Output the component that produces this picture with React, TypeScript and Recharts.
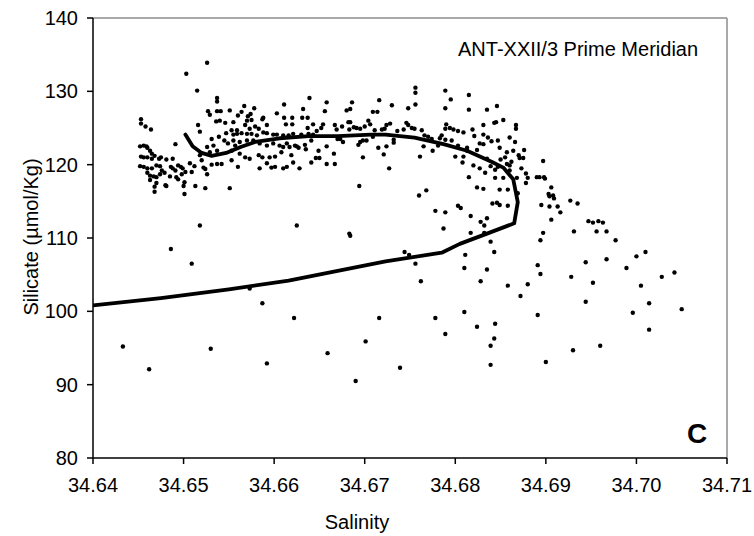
import React from 'react';
import { ScatterChart, Scatter, XAxis, YAxis, ReferenceLine } from 'recharts';

// salinity vs silicate samples
const westCluster: [number, number][] = [
  [34.6453, 126.2], [34.6453, 125.6], [34.6458, 125.2], [34.6464, 124.8], [34.6503, 132.4], [34.6515, 130.1],
  [34.6526, 133.9], [34.6516, 125.4], [34.6518, 124.5], [34.6527, 127.3], [34.6529, 126.8], [34.6537, 129.1],
  [34.6537, 128.6], [34.6537, 127.3], [34.6541, 127.3], [34.6536, 125.9], [34.654, 126.0], [34.6546, 125.7],
  [34.6452, 122.5], [34.6456, 122.6], [34.6459, 122.5], [34.646, 122.3], [34.6463, 121.9], [34.6465, 121.5],
  [34.6453, 121.1], [34.6456, 121.0], [34.646, 121.0], [34.6465, 120.8], [34.6468, 121.2], [34.6473, 120.8],
  [34.6475, 121.0], [34.6452, 119.8], [34.6456, 119.7], [34.646, 119.5], [34.6465, 119.5], [34.647, 119.9],
  [34.6474, 119.8], [34.6476, 119.2], [34.646, 118.9], [34.6463, 118.5], [34.6467, 118.4], [34.647, 118.3],
  [34.6474, 118.7], [34.6463, 117.9], [34.647, 117.5], [34.6468, 117.0], [34.648, 117.2], [34.6481, 117.1],
  [34.6479, 118.9], [34.6485, 118.4], [34.6488, 119.5], [34.6491, 119.2], [34.6494, 119.9], [34.6497, 119.7],
  [34.6499, 119.5], [34.6498, 118.7], [34.6502, 119.0], [34.6492, 118.3], [34.6494, 118.0], [34.6491, 122.8],
  [34.6488, 120.8], [34.6486, 119.7], [34.6481, 120.7], [34.6501, 117.6], [34.65, 117.1], [34.6501, 116.0],
  [34.6507, 120.2], [34.6512, 119.8], [34.6509, 119.0], [34.6518, 121.3], [34.652, 120.6], [34.6522, 119.6],
  [34.6524, 119.4], [34.6526, 118.7], [34.6513, 117.1], [34.6524, 116.8], [34.6531, 120.0], [34.6537, 120.1],
  [34.6542, 120.1], [34.6553, 121.9], [34.6549, 122.9], [34.6545, 123.3], [34.6539, 123.8], [34.6547, 124.3],
  [34.6555, 124.1], [34.6559, 124.7], [34.6531, 123.5], [34.6533, 122.6], [34.6529, 121.7], [34.6526, 122.4],
  [34.6537, 121.9], [34.6553, 120.6], [34.656, 119.7], [34.6468, 116.3], [34.6518, 111.7], [34.6486, 108.5],
  [34.6509, 106.5], [34.6573, 103.1], [34.6433, 95.2], [34.6462, 92.1], [34.653, 94.9],
];

const plateauWest: [number, number][] = [
  [34.6551, 127.4], [34.6555, 125.8], [34.656, 126.7], [34.6564, 127.2], [34.6567, 128.0], [34.657, 126.0],
  [34.6571, 126.6], [34.6574, 126.9], [34.6575, 126.1], [34.6578, 127.7], [34.6568, 125.4], [34.6573, 124.9],
  [34.6579, 125.2], [34.6583, 124.9], [34.6587, 126.2], [34.6588, 126.4], [34.6592, 125.4], [34.6553, 124.7],
  [34.6559, 124.2], [34.6564, 124.3], [34.657, 124.2], [34.6575, 124.2], [34.6581, 124.0], [34.6588, 124.4],
  [34.6592, 124.3], [34.6599, 124.1], [34.6603, 124.1], [34.661, 124.0], [34.6616, 124.0], [34.6621, 124.2],
  [34.663, 124.1], [34.6638, 124.2], [34.6643, 124.1], [34.6555, 123.3], [34.6562, 123.1], [34.657, 123.3],
  [34.6577, 123.3], [34.6584, 122.9], [34.6592, 122.6], [34.6599, 122.9], [34.6606, 122.6], [34.6614, 122.9],
  [34.6623, 122.6], [34.6625, 122.5], [34.6634, 122.7], [34.6641, 123.3], [34.6647, 124.6], [34.6652, 125.0],
  [34.6654, 125.5], [34.6658, 122.5], [34.6557, 122.6], [34.6562, 121.5], [34.6568, 121.0], [34.6573, 120.8],
  [34.6583, 121.3], [34.6587, 121.0], [34.6592, 120.2], [34.6597, 119.6], [34.6601, 119.7], [34.661, 119.5],
  [34.6614, 119.7], [34.6595, 121.0], [34.6601, 121.1], [34.6608, 121.7], [34.661, 122.4], [34.6619, 121.3],
  [34.6621, 120.3], [34.6628, 119.5], [34.6641, 120.3], [34.6646, 120.9], [34.665, 120.9], [34.6584, 119.5],
  [34.6551, 116.8], [34.6603, 127.0], [34.6611, 128.2], [34.6611, 126.4], [34.6613, 125.5], [34.662, 126.4],
  [34.662, 125.5], [34.6632, 127.6], [34.6631, 126.4], [34.6637, 126.4], [34.6639, 129.1], [34.6637, 125.0],
  [34.6643, 125.5], [34.6656, 127.3], [34.6658, 128.5], [34.6667, 125.4], [34.6669, 124.8], [34.6675, 125.2],
  [34.6673, 123.5], [34.667, 123.5], [34.668, 127.4], [34.6683, 124.8], [34.6684, 127.6], [34.6686, 128.5],
  [34.6682, 125.8], [34.6684, 125.8], [34.6688, 125.1], [34.6691, 125.0], [34.6695, 124.9], [34.6698, 123.3],
  [34.67, 125.2], [34.6704, 126.0], [34.6706, 125.5], [34.6711, 124.7], [34.6709, 127.2], [34.6714, 127.2],
  [34.6716, 128.8], [34.6719, 124.8], [34.6722, 124.9], [34.6724, 125.4], [34.673, 128.1], [34.6728, 125.6],
  [34.6736, 124.6], [34.6732, 123.4], [34.6743, 124.8], [34.6746, 125.7], [34.6748, 127.7], [34.6702, 123.3],
  [34.6709, 123.8], [34.6715, 122.3], [34.6721, 121.4], [34.6724, 122.5], [34.6732, 123.0], [34.6693, 122.7],
  [34.6695, 123.1], [34.6698, 121.0], [34.6727, 119.5], [34.6694, 117.1], [34.6666, 121.5], [34.6667, 120.1],
  [34.6658, 120.1], [34.6649, 121.9], [34.6635, 122.1], [34.6627, 122.3], [34.6617, 122.4], [34.6676, 123.1],
];

const plateauEast: [number, number][] = [
  [34.6756, 130.5], [34.6756, 129.8], [34.6756, 128.2], [34.6789, 130.1], [34.6795, 128.9], [34.6789, 127.7],
  [34.6815, 129.5], [34.6815, 127.5], [34.6835, 127.5], [34.6846, 128.0], [34.6853, 126.1], [34.6843, 125.7],
  [34.6845, 125.8], [34.6748, 125.4], [34.6752, 125.0], [34.6755, 124.9], [34.6763, 124.7], [34.6766, 124.0],
  [34.677, 123.8], [34.6774, 123.5], [34.6785, 124.0], [34.6783, 123.6], [34.6789, 124.9], [34.679, 125.5],
  [34.6794, 125.0], [34.6798, 124.8], [34.6803, 124.6], [34.6809, 124.4], [34.6819, 124.8], [34.6821, 123.9],
  [34.6831, 125.4], [34.6831, 124.1], [34.6836, 123.7], [34.684, 123.2], [34.6827, 122.9], [34.6831, 122.8],
  [34.6847, 123.3], [34.6849, 122.3], [34.686, 123.7], [34.6866, 123.1], [34.6867, 125.4], [34.6867, 124.9],
  [34.6789, 123.4], [34.6803, 122.6], [34.6813, 122.3], [34.68, 121.1], [34.6809, 121.1], [34.6808, 120.3],
  [34.682, 119.9], [34.6827, 119.5], [34.6833, 118.9], [34.6839, 119.8], [34.6844, 119.3], [34.6847, 119.7],
  [34.685, 120.7], [34.6855, 121.0], [34.6857, 120.1], [34.686, 119.9], [34.6862, 120.4], [34.687, 121.3],
  [34.6871, 120.9], [34.6875, 120.9], [34.6876, 122.0], [34.6873, 119.5], [34.6878, 118.8], [34.688, 118.2],
  [34.6878, 117.5], [34.6868, 118.2], [34.686, 119.2], [34.6853, 118.2], [34.6844, 118.2], [34.6815, 118.3],
  [34.6824, 116.9], [34.6831, 116.7], [34.6849, 116.6], [34.6858, 116.6], [34.689, 118.3], [34.6893, 118.3],
  [34.6897, 120.5], [34.6898, 118.3], [34.6899, 118.1], [34.6906, 116.9], [34.6903, 116.0], [34.6908, 115.8],
  [34.6768, 116.5], [34.676, 115.8], [34.6761, 121.1], [34.6775, 121.9], [34.6765, 122.5], [34.6781, 122.6],
  [34.6796, 123.3], [34.6813, 121.9], [34.6824, 122.0], [34.6835, 120.8], [34.6857, 121.7], [34.6864, 121.9],
];

const easternTail: [number, number][] = [
  [34.6916, 113.5], [34.6927, 115.1], [34.6935, 114.7], [34.6931, 110.9], [34.6947, 112.3], [34.6952, 112.1],
  [34.6958, 112.3], [34.6963, 112.1], [34.6956, 110.9], [34.6967, 110.9], [34.6977, 109.7], [34.6944, 106.7],
  [34.6967, 107.1], [34.7, 107.5], [34.701, 108.1], [34.6989, 105.9], [34.6928, 104.7], [34.6952, 103.9],
  [34.7005, 103.5], [34.7028, 104.7], [34.7042, 105.3], [34.6944, 101.3], [34.7014, 101.1], [34.6996, 99.8],
  [34.705, 100.3], [34.7014, 97.5],
];

const lowerScatter: [number, number][] = [
  [34.6778, 113.7], [34.6789, 113.5], [34.6787, 111.3], [34.6625, 111.7], [34.6683, 110.6], [34.6684, 110.3],
  [34.6744, 108.1], [34.6749, 107.7], [34.6756, 106.5], [34.6762, 104.1], [34.6587, 101.1], [34.6622, 99.1],
  [34.6716, 99.1], [34.6778, 99.1], [34.6789, 96.9], [34.6701, 95.9], [34.6659, 94.3], [34.6592, 92.9],
  [34.6739, 92.3], [34.669, 90.5], [34.6869, 116.1], [34.6904, 115.7], [34.6909, 115.4], [34.6895, 114.5],
  [34.6904, 114.3], [34.6913, 114.3], [34.6906, 112.5], [34.6897, 110.7], [34.6894, 109.7], [34.6803, 114.4],
  [34.6806, 114.1], [34.6817, 113.0], [34.6835, 112.7], [34.6828, 112.2], [34.6832, 111.7], [34.6817, 110.7],
  [34.6832, 110.7], [34.6839, 109.5], [34.6843, 108.1], [34.6841, 114.7], [34.6846, 114.8], [34.6849, 114.5],
  [34.6858, 114.4], [34.6811, 107.7], [34.681, 105.9], [34.6835, 105.7], [34.6828, 104.1], [34.6858, 103.5],
  [34.688, 103.7], [34.6872, 102.1], [34.6891, 106.3], [34.6894, 105.1], [34.6891, 99.5], [34.681, 99.9],
  [34.6824, 97.9], [34.6844, 98.3], [34.6843, 96.3], [34.6839, 95.3], [34.6839, 92.7], [34.69, 93.1],
  [34.693, 94.7], [34.696, 95.3],
];

// thick profile line, in drawing order
const meanProfile: [number, number][] = [
  [34.6502, 124.1], [34.651, 122.5], [34.652, 121.6], [34.6531, 121.2], [34.6547, 121.6], [34.6563, 122.4],
  [34.6579, 123.1], [34.6606, 123.6], [34.6638, 123.9], [34.667, 123.9], [34.6707, 124.1], [34.6723, 124.1],
  [34.6755, 123.7], [34.6787, 122.8], [34.6813, 121.9], [34.684, 120.4], [34.6853, 119.6], [34.6864, 118.0],
  [34.6869, 114.9], [34.6865, 112.0], [34.6835, 110.6], [34.6805, 109.2], [34.6785, 108.0], [34.6723, 106.8],
  [34.6616, 104.2], [34.655, 103.0], [34.6475, 101.8], [34.64, 100.8],
];

const salinityTicks = [34.64, 34.65, 34.66, 34.67, 34.68, 34.69, 34.7, 34.71];
const silicateTicks = [80, 90, 100, 110, 120, 130, 140];

const toXY = (rows: [number, number][]) => rows.map(([x, y]) => ({ x, y }));

const samples = toXY([...westCluster, ...plateauWest, ...plateauEast, ...easternTail, ...lowerScatter]);
const profile = toXY(meanProfile);

const font = '"Liberation Sans", Arial, Helvetica, sans-serif';

const Dot = (props: any) => {
  const { cx, cy } = props;
  if (cx == null || cy == null) return <g />;
  return <circle cx={cx} cy={cy} r={2.2} fill="#000" />;
};

const App = () => {
  return (
    <div style={{ position: 'absolute', left: 0, top: 0, width: 754, height: 536, background: '#fff' }}>
      <ScatterChart width={754} height={536} margin={{ top: 18, right: 27, bottom: 0, left: 0 }}>
        <XAxis
          type="number"
          dataKey="x"
          domain={[34.64, 34.71]}
          ticks={salinityTicks}
          tickFormatter={(v: number) => v.toFixed(2)}
          height={78}
          tickSize={6}
          tickMargin={14}
          axisLine={{ stroke: '#000', strokeWidth: 1.5 }}
          tickLine={{ stroke: '#000', strokeWidth: 1.5 }}
          tick={{ fill: '#000', fontSize: 20, fontFamily: font }}
          allowDataOverflow
        />
        <YAxis
          type="number"
          dataKey="y"
          domain={[80, 140]}
          ticks={silicateTicks}
          width={93}
          tickSize={6}
          tickMargin={9}
          axisLine={{ stroke: '#000', strokeWidth: 1.5 }}
          tickLine={{ stroke: '#000', strokeWidth: 1.5 }}
          tick={{ fill: '#000', fontSize: 20, fontFamily: font }}
          allowDataOverflow
        />
        <ReferenceLine y={140} stroke="#8c8c8c" strokeWidth={1.5} />
        <ReferenceLine x={34.71} stroke="#8c8c8c" strokeWidth={1.5} />
        <Scatter data={samples} shape={<Dot />} isAnimationActive={false} />
        <Scatter
          data={profile}
          line={{ stroke: '#000', strokeWidth: 3.8, strokeLinejoin: 'round', strokeLinecap: 'round' }}
          lineJointType="linear"
          shape={() => <g />}
          isAnimationActive={false}
        />
      </ScatterChart>
      <svg
        width={754}
        height={536}
        style={{ position: 'absolute', left: 0, top: 0, pointerEvents: 'none' }}
        fontFamily={font}
      >
        <text x={458} y={56} fontSize={20} fill="#000">
          ANT-XXII/3 Prime Meridian
        </text>
        <text x={697} y={443} fontSize={28} fontWeight="bold" textAnchor="middle" fill="#000">
          C
        </text>
        <text x={357} y={529} fontSize={20} textAnchor="middle" fill="#000">
          Salinity
        </text>
        <text transform="translate(38,237) rotate(-90)" fontSize={20} textAnchor="middle" fill="#000">
          Silicate (µmol/Kg)
        </text>
      </svg>
    </div>
  );
};

export default App;
